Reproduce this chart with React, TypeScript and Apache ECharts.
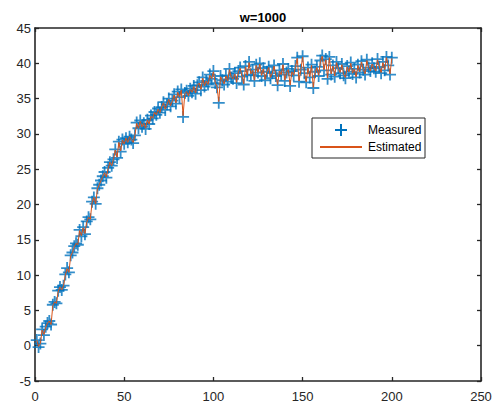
import React, { useEffect, useRef } from "react";
import * as echarts from "echarts";

const chartTitle = "w=1000";
const seriesNames = ["Measured", "Estimated"];
const xTicks = [0, 50, 100, 150, 200, 250];
const yTicks = [-5, 0, 5, 10, 15, 20, 25, 30, 35, 40, 45];

const measured = [
  0.8, -0.2, 0.3, 2.3, 1.5, 2.7, 3.2, 3.5, 3.0, 5.8,
  6.2, 6.0, 7.8, 8.3, 7.9, 8.5, 10.1, 11.0, 10.4, 12.8,
  13.2, 14.1, 14.5, 14.3, 16.4, 15.5, 16.8, 15.8, 17.6, 18.2,
  17.9, 20.4, 21.0, 20.1, 22.3, 22.8, 23.4, 24.0, 24.6, 23.8,
  25.2, 26.0, 25.5, 26.4, 27.8, 26.6, 28.9, 27.5, 29.2, 28.6,
  29.4, 28.8, 29.6, 29.2, 28.7, 29.8, 31.6, 30.8, 31.9, 31.0,
  31.5, 30.7, 32.0, 31.4, 32.6, 32.2, 33.1, 32.7, 33.6, 33.0,
  33.8, 34.5, 33.4, 34.2, 35.0, 33.9, 34.7, 35.6, 34.3, 36.0,
  35.2, 36.3, 32.4, 35.8, 36.1, 35.4, 36.4, 35.9, 36.8, 35.7,
  36.9, 37.3, 36.2, 38.0, 36.7, 37.5, 37.0, 38.4, 37.8, 38.9,
  37.2, 36.6, 34.4, 38.2, 37.6, 37.0, 38.3, 37.4, 39.2, 38.0,
  37.8, 38.6, 37.2, 38.9, 39.4, 38.1, 37.0, 39.6, 38.3, 40.2,
  38.4, 39.1, 37.5, 39.8, 38.7, 40.0, 38.2, 39.3, 37.6, 38.8,
  39.5, 37.9, 38.6, 39.7, 38.2, 36.9, 39.0, 38.4, 39.9, 37.5,
  38.7, 39.2, 36.8, 38.9, 38.3, 39.6, 40.8, 37.4, 39.1, 41.0,
  38.6, 37.3, 39.4, 38.0, 39.8, 36.5, 38.8, 39.5, 38.2, 40.4,
  41.1, 39.0, 40.6, 37.8, 40.9, 38.4, 39.7, 38.1, 40.2, 39.3,
  38.6, 39.9, 38.3, 37.9, 39.6, 38.8, 40.1, 38.5, 39.2, 38.0,
  39.8, 38.7, 40.3, 39.1, 38.4, 40.5, 39.4, 38.9, 40.0, 39.3,
  38.8, 40.6, 39.5, 38.6, 40.2, 39.0, 40.9, 39.7, 38.4, 40.8,
];

const estimated = [
  0.8, -0.1, 0.3, 2.2, 1.6, 2.6, 3.2, 3.5, 3.0, 5.7,
  6.2, 6.0, 7.7, 8.3, 7.9, 8.5, 10.0, 10.9, 10.4, 12.7,
  13.2, 14.0, 14.5, 14.3, 16.3, 15.6, 16.7, 15.9, 17.5, 18.2,
  17.9, 20.3, 21.0, 20.1, 22.2, 22.8, 23.4, 24.0, 24.5, 23.9,
  25.1, 26.0, 25.5, 26.4, 27.7, 26.7, 28.8, 27.6, 29.1, 28.6,
  29.4, 28.8, 29.6, 29.2, 28.8, 29.8, 31.5, 30.8, 31.8, 31.0,
  31.5, 30.8, 32.0, 31.4, 32.5, 32.2, 33.1, 32.7, 33.5, 33.0,
  33.8, 34.4, 33.5, 34.2, 34.9, 34.0, 34.7, 35.5, 34.4, 35.9,
  35.2, 36.2, 32.6, 35.7, 36.0, 35.4, 36.3, 35.9, 36.7, 35.8,
  36.9, 37.2, 36.3, 37.9, 36.8, 37.5, 37.0, 38.3, 37.8, 38.8,
  37.3, 36.7, 34.6, 38.1, 37.6, 37.1, 38.2, 37.5, 39.1, 38.0,
  37.8, 38.5, 37.3, 38.8, 39.3, 38.2, 37.1, 39.5, 38.3, 40.1,
  38.5, 39.0, 37.6, 39.7, 38.7, 39.9, 38.3, 39.2, 37.7, 38.8,
  39.4, 38.0, 38.6, 39.6, 38.3, 37.0, 38.9, 38.4, 39.8, 37.6,
  38.7, 39.1, 36.9, 38.8, 38.3, 39.5, 40.7, 37.5, 39.0, 40.9,
  38.7, 37.4, 39.3, 38.1, 39.7, 36.6, 38.7, 39.4, 38.3, 40.3,
  41.0, 39.1, 40.5, 37.9, 40.8, 38.5, 39.6, 38.2, 40.1, 39.3,
  38.7, 39.8, 38.4, 38.0, 39.5, 38.8, 40.0, 38.6, 39.2, 38.1,
  39.7, 38.8, 40.2, 39.1, 38.5, 40.4, 39.4, 38.9, 39.9, 39.3,
  38.9, 40.5, 39.5, 38.7, 40.1, 39.1, 40.8, 39.7, 38.5, 40.7,
];

const BLUE = "#0072BD";
const ORANGE = "#D95319";
const AXIS = "#262626";
const FONT = "'Liberation Sans', Arial, sans-serif";
const PLUS = "path://M0,4.1H12V5.9H0Z M5.1,-1H6.9V11H5.1Z";

export default function App() {
  const ref = useRef<HTMLDivElement>(null);

  useEffect(() => {
    if (!ref.current) return;
    const chart = echarts.init(ref.current, undefined, { renderer: "svg" });
    const mPts = measured.map((v, i) => [i + 1, v]);
    const ePts = estimated.map((v, i) => [i + 1, v]);

    const axisLine = { show: true, onZero: false, lineStyle: { color: AXIS, width: 1.6 } };
    const tickIn = { show: true, inside: true, length: 4, lineStyle: { color: AXIS, width: 1.3 } };
    const xBase = { type: "value", min: xTicks[0], max: xTicks[xTicks.length - 1], interval: 50, splitLine: { show: false } };
    const yBase = { type: "value", min: yTicks[0], max: yTicks[yTicks.length - 1], interval: 5, splitLine: { show: false } };

    const lx = 312, ly = 118;
    chart.setOption({
      animation: false,
      backgroundColor: "#ffffff",
      title: {
        text: chartTitle,
        left: 258,
        textAlign: "center",
        top: 6,
        textStyle: { fontFamily: FONT, fontSize: 13, fontWeight: "bold", color: "#000" },
      },
      grid: { left: 35, right: 19, top: 28, bottom: 24, containLabel: false, outerBoundsMode: "none" },
      xAxis: [
        {
          ...xBase,
          position: "bottom",
          axisLine,
          axisTick: tickIn,
          axisLabel: { show: true, margin: 9, color: AXIS, fontFamily: FONT, fontSize: 13 },
        },
        {
          ...xBase,
          position: "top",
          axisLine,
          axisTick: tickIn,
          axisLabel: { show: false },
        },
      ],
      yAxis: [
        {
          ...yBase,
          position: "left",
          axisLine,
          axisTick: tickIn,
          axisLabel: { show: true, margin: 4, color: AXIS, fontFamily: FONT, fontSize: 13 },
        },
        {
          ...yBase,
          position: "right",
          axisLine,
          axisTick: tickIn,
          axisLabel: { show: false },
        },
      ],
      series: [
        {
          name: seriesNames[0],
          type: "scatter",
          data: mPts,
          symbol: PLUS,
          symbolSize: 12,
          itemStyle: { color: BLUE },
          z: 2,
        },
        {
          name: seriesNames[1],
          type: "line",
          data: ePts,
          showSymbol: false,
          symbol: "none",
          lineStyle: { color: ORANGE, width: 1 },
          z: 3,
        },
      ],
      graphic: [
        {
          type: "rect",
          shape: { x: lx, y: ly, width: 113, height: 40 },
          style: { fill: "#ffffff", stroke: "#262626", lineWidth: 1 },
          z: 10,
        },
        {
          type: "line",
          shape: { x1: lx + 23, y1: ly + 12, x2: lx + 35, y2: ly + 12 },
          style: { stroke: BLUE, lineWidth: 2 },
          z: 11,
        },
        {
          type: "line",
          shape: { x1: lx + 29, y1: ly + 6, x2: lx + 29, y2: ly + 18 },
          style: { stroke: BLUE, lineWidth: 2 },
          z: 11,
        },
        {
          type: "line",
          shape: { x1: lx + 8, y1: ly + 29, x2: lx + 50, y2: ly + 29 },
          style: { stroke: ORANGE, lineWidth: 2 },
          z: 11,
        },
        {
          type: "text",
          x: lx + 56,
          y: ly + 12,
          style: { text: seriesNames[0], fill: "#000", font: `12px ${FONT}`, verticalAlign: "middle" },
          z: 11,
        },
        {
          type: "text",
          x: lx + 56,
          y: ly + 29,
          style: { text: seriesNames[1], fill: "#000", font: `12px ${FONT}`, verticalAlign: "middle" },
          z: 11,
        },
      ],
    });
    return () => chart.dispose();
  }, []);

  return <div ref={ref} style={{ width: 500, height: 405, position: "absolute", left: 0, top: 0 }} />;
}
